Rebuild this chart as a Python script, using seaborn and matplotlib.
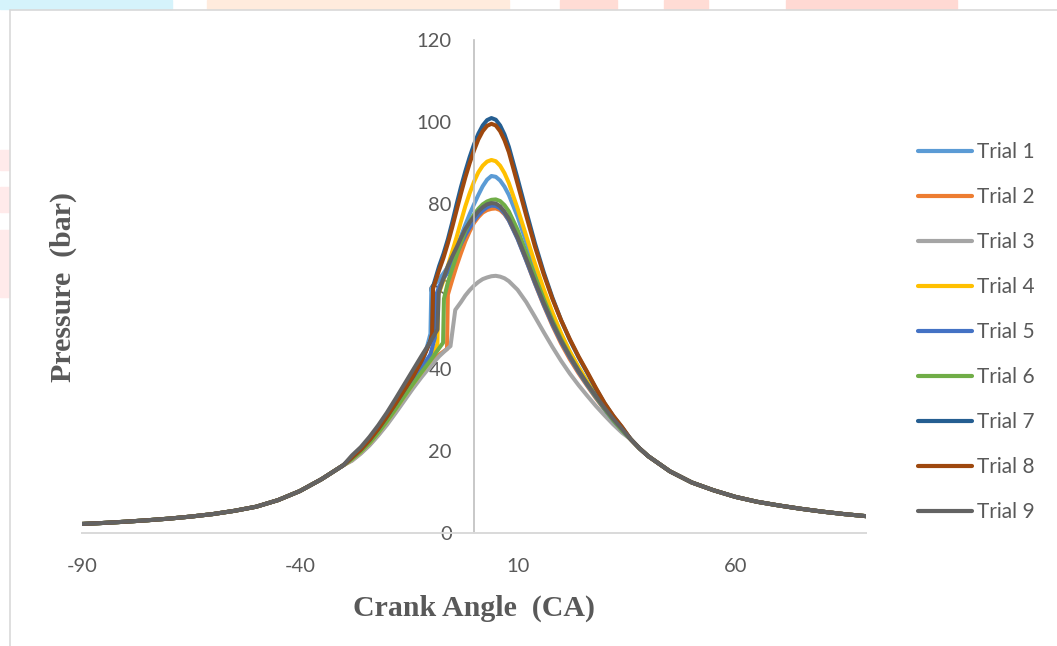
import matplotlib
matplotlib.use("Agg")
import matplotlib.pyplot as plt
import seaborn as sns
import pandas as pd
from matplotlib.patches import Rectangle
from matplotlib.lines import Line2D

# --- data ---
trials = ["Trial 1", "Trial 2", "Trial 3", "Trial 4", "Trial 5",
          "Trial 6", "Trial 7", "Trial 8", "Trial 9"]
colors = ["#5B9BD5", "#ED7D31", "#A5A5A5", "#FFC000", "#4472C4",
          "#70AD47", "#255E91", "#9E480E", "#636363"]

# compression / expansion tails (all trials practically overlap here)
left_angle = [-90, -85, -80, -75, -70, -65, -60, -55, -50, -45, -40, -35, -30]
left_p = [2.2, 2.45, 2.75, 3.1, 3.5, 4.0, 4.6, 5.4, 6.4, 8.0, 10.2, 13.1, 16.5]
right_angle = [36, 38, 40, 45, 50, 55, 60, 65, 70, 75, 80, 85, 90]
right_p = [22.8, 20.6, 18.7, 15.0, 12.3, 10.4, 8.8, 7.6, 6.7, 5.9, 5.2, 4.6, 4.1]

# compression + combustion rise up to the peak, per trial
t1_angle = [-28, -26, -24, -22, -20, -18, -16, -14, -13, -12, -11, -10, -9.8, -9, -8, -7, -6, -5, -4, -3, -2, -1, 0, 1, 2, 3, 4]
t1_p = [18.0, 19.8, 21.9, 24.4, 27.2, 30.2, 33.3, 36.3, 38.0, 41.0, 44.5, 48.5, 59.5, 60.5, 61.8, 63.2, 64.8, 67.0, 69.5, 72.2, 75.0, 77.6, 80.0, 82.3, 84.4, 86.0, 86.9]

t2_angle = [-28, -26, -24, -22, -20, -18, -16, -14, -12, -10, -8, -6.2, -6, -5, -4, -3, -2, -1, 0, 1, 2, 3, 4]
t2_p = [17.7, 19.5, 21.5, 23.9, 26.6, 29.5, 32.5, 35.5, 38.5, 41.2, 43.4, 44.8, 58.0, 61.6, 65.0, 68.1, 71.0, 73.4, 75.5, 76.9, 78.0, 78.6, 78.9]

t3_angle = [-28, -26, -24, -22, -20, -18, -16, -14, -12, -10, -8, -7, -5.4, -4.3, -3, -2, -1, 0, 1, 2, 3, 4]
t3_p = [17.6, 19.3, 21.3, 23.7, 26.3, 29.2, 32.2, 35.2, 38.0, 40.6, 43.0, 44.0, 45.5, 54.3, 56.2, 57.8, 59.1, 60.2, 61.1, 61.8, 62.2, 62.5]

t4_angle = [-28, -26, -24, -22, -20, -18, -16, -14, -12, -10, -8.4, -8.2, -7, -6, -5, -4, -3, -2, -1, 0, 1, 2, 3, 4]
t4_p = [18.0, 19.8, 21.9, 24.4, 27.2, 30.2, 33.3, 36.3, 39.2, 42.0, 46.0, 58.0, 61.5, 65.0, 68.5, 72.0, 75.8, 79.5, 82.7, 85.5, 87.8, 89.4, 90.4, 90.8]

t5_angle = [-28, -26, -24, -22, -20, -18, -16, -14, -12, -10, -9, -8.8, -8, -7, -6, -5, -4, -3, -2, -1, 0, 1, 2, 3, 4]
t5_p = [18.2, 20.1, 22.3, 24.8, 27.7, 30.8, 34.0, 37.1, 40.2, 43.5, 47.5, 57.5, 60.0, 62.0, 63.5, 65.8, 68.0, 70.3, 72.5, 74.3, 76.0, 77.4, 78.5, 79.3, 79.7]

t6_angle = [-28, -26, -24, -22, -20, -18, -16, -14, -12, -10, -8, -7.1, -6.9, -6, -5, -4, -3, -2, -1, 0, 1, 2, 3, 4]
t6_p = [18.0, 19.8, 21.9, 24.4, 27.2, 30.2, 33.3, 36.3, 39.2, 42.0, 45.0, 46.3, 57.0, 61.0, 64.3, 67.5, 70.6, 73.5, 75.7, 77.5, 78.9, 80.0, 80.7, 81.1]

t7_angle = [-28, -26, -24, -22, -20, -18, -16, -14, -12, -11, -10, -9.6, -9.4, -8, -7, -6, -5, -4, -3, -2, -1, 0, 1, 2, 3, 4]
t7_p = [18.4, 20.3, 22.6, 25.3, 28.3, 31.5, 34.8, 38.1, 42.0, 44.3, 46.8, 48.5, 60.0, 65.0, 68.0, 71.5, 75.6, 80.0, 84.2, 88.0, 91.5, 94.6, 97.2, 99.2, 100.5, 101.0]

t8_angle = [-28, -26, -24, -22, -20, -18, -16, -14, -12, -11, -10, -9.6, -9.4, -8, -7, -6, -5, -4, -3, -2, -1, 0, 1, 2, 3, 4]
t8_p = [18.4, 20.3, 22.6, 25.3, 28.3, 31.5, 34.8, 38.1, 42.0, 44.3, 46.8, 48.5, 59.5, 64.0, 67.0, 70.5, 74.4, 78.5, 82.6, 86.5, 90.0, 93.1, 95.8, 97.8, 99.1, 99.6]

t9_angle = [-28, -26, -24, -22, -20, -18, -16, -14, -12, -10, -8.4, -8.1, -7, -6, -5, -4, -3, -2, -1, 0, 1, 2, 3, 4]
t9_p = [18.9, 20.9, 23.4, 26.2, 29.3, 32.7, 36.2, 39.7, 43.2, 46.6, 49.5, 58.5, 62.0, 65.0, 67.3, 69.5, 71.8, 74.0, 75.6, 77.0, 78.3, 79.3, 80.0, 80.3]

# expansion after the peak, per trial
desc_angle = [5, 6, 7, 8, 10, 12, 14, 16, 18, 20, 22, 24, 26, 28, 30, 32, 34]
t1_desc = [86.7, 85.8, 84.3, 82.3, 77.0, 70.8, 64.6, 58.7, 53.2, 48.3, 44.0, 40.2, 36.8, 33.5, 30.4, 27.6, 25.1]
t2_desc = [79.0, 78.6, 77.6, 76.1, 71.7, 66.3, 60.7, 55.4, 50.5, 46.1, 42.3, 38.9, 35.8, 32.8, 30.0, 27.3, 24.9]
t3_desc = [62.6, 62.4, 62.0, 61.3, 59.2, 56.2, 52.6, 48.9, 45.3, 41.9, 38.8, 36.0, 33.4, 30.9, 28.6, 26.4, 24.4]
t4_desc = [90.5, 89.4, 87.6, 85.2, 79.0, 72.3, 65.6, 59.4, 53.7, 48.6, 44.2, 40.4, 36.9, 33.6, 30.4, 27.6, 25.1]
t5_desc = [79.6, 79.0, 77.8, 76.1, 71.6, 66.3, 60.8, 55.6, 50.8, 46.5, 42.7, 39.2, 36.0, 33.0, 30.1, 27.4, 25.0]
t6_desc = [81.2, 80.8, 79.8, 78.3, 73.8, 68.2, 62.5, 57.0, 51.8, 47.2, 43.2, 39.6, 36.3, 33.2, 30.2, 27.4, 25.0]
t7_desc = [100.6, 99.2, 97.0, 94.0, 86.3, 78.3, 70.5, 63.5, 57.3, 51.8, 47.0, 42.8, 39.0, 35.1, 31.5, 28.4, 25.7]
t8_desc = [99.2, 97.8, 95.6, 92.7, 85.0, 77.2, 69.7, 63.0, 57.0, 51.8, 47.2, 43.0, 39.2, 35.3, 31.6, 28.5, 25.8]
t9_desc = [80.2, 79.5, 78.2, 76.5, 72.0, 66.7, 61.2, 56.0, 51.2, 46.8, 43.0, 39.5, 36.3, 33.3, 30.4, 27.7, 25.3]

rise_angles = [t1_angle, t2_angle, t3_angle, t4_angle, t5_angle, t6_angle, t7_angle, t8_angle, t9_angle]
rise_p = [t1_p, t2_p, t3_p, t4_p, t5_p, t6_p, t7_p, t8_p, t9_p]
desc_p = [t1_desc, t2_desc, t3_desc, t4_desc, t5_desc, t6_desc, t7_desc, t8_desc, t9_desc]

x_ticks = [-90, -40, 10, 60]
y_ticks = [0, 20, 40, 60, 80, 100, 120]

# long table for seaborn
rows = []
for name, ang, p, dp in zip(trials, rise_angles, rise_p, desc_p):
    xs = left_angle + ang + desc_angle + right_angle
    ys = left_p + p + dp + right_p
    for a, v in zip(xs, ys):
        rows.append({"trial": name, "angle": a, "pressure": v})
df = pd.DataFrame(rows)

sns.set_theme(style="white")
plt.rcParams["font.family"] = ["Lato", "DejaVu Sans"]
plt.rcParams["axes.unicode_minus"] = False

W, H = 1057, 646
fig = plt.figure(figsize=(W / 100, H / 100), dpi=100)

# faint watermark strips behind the chart area + chart border
for x0, x1, c in [(0, 172, "#D5F3FB"), (207, 509, "#FFEBDD"), (560, 617, "#FFDCD5"),
                  (664, 708, "#FFDCD5"), (786, 957, "#FFD9D3")]:
    fig.patches.append(Rectangle((x0 / W, 1 - 9 / H), (x1 - x0) / W, 9 / H,
                                 transform=fig.transFigure, color=c, zorder=0))
for y0, y1 in [(150, 170), (187, 212), (230, 297)]:
    fig.patches.append(Rectangle((0, 1 - y1 / H), 9 / W, (y1 - y0) / H,
                                 transform=fig.transFigure, color="#FFEAEA", zorder=0))
fig.lines.append(Line2D([10 / W, 10 / W], [0, 1 - 10 / H], transform=fig.transFigure,
                        color="#D9D9D9", lw=1.2))
fig.lines.append(Line2D([10 / W, 1], [1 - 10 / H, 1 - 10 / H], transform=fig.transFigure,
                        color="#D9D9D9", lw=1.2))

ax = fig.add_axes([82 / W, 1 - 533 / H, 784 / W, 493 / H])
sns.lineplot(data=df, x="angle", y="pressure", hue="trial", units="trial",
             estimator=None, sort=False, palette=colors, hue_order=trials,
             linewidth=2.9, ax=ax, legend="full")

ax.set_xlim(-90, 90)
ax.set_ylim(0, 120)
ax.set_xticks(x_ticks)
ax.set_yticks(y_ticks)
ax.tick_params(axis="both", length=0, labelsize=14.5, labelcolor="#595959")
ax.tick_params(axis="x", pad=18)
ax.tick_params(axis="y", pad=16)

for s in ["top", "right"]:
    ax.spines[s].set_visible(False)
ax.spines["left"].set_position(("data", 0))
ax.spines["left"].set_color("#BFBFBF")
ax.spines["left"].set_linewidth(1.2)
ax.spines["bottom"].set_color("#D9D9D9")
ax.spines["bottom"].set_linewidth(1.4)

label_font = dict(family="Liberation Serif", fontweight="bold", color="#595959", fontsize=21.5)
ax.set_xlabel("Crank Angle  (CA)", labelpad=14, **label_font)
ax.set_ylabel("Pressure  (bar)", **label_font)
ax.yaxis.set_label_coords(-0.006, 0.5)

sns.move_legend(ax, "center left", bbox_to_anchor=((918 - 82) / 784, (533 - 332) / 493),
                frameon=False, title=None, fontsize=15, handlelength=2.6,
                handletextpad=0.25, labelspacing=1.2, borderpad=0, borderaxespad=0)
leg = ax.get_legend()
for h in leg.legend_handles:
    h.set_linewidth(3)
for t in leg.get_texts():
    t.set_color("#595959")

fig.savefig("out.png", dpi=100)
